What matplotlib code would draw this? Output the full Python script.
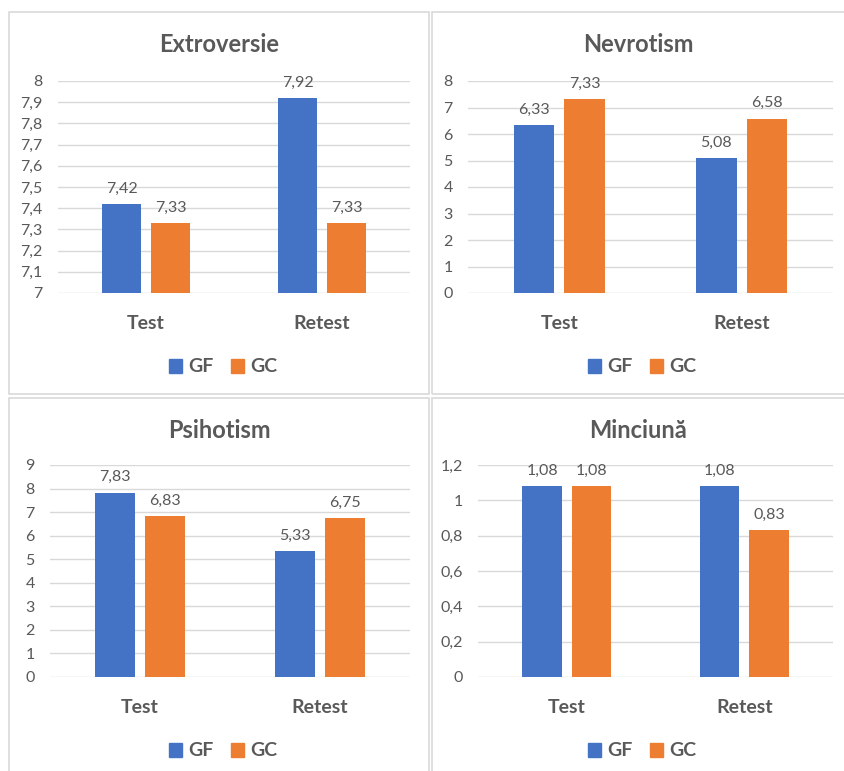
import matplotlib.pyplot as plt
from matplotlib.patches import Rectangle, Patch
import numpy as np

# date: scoruri medii pe grupe (GF / GC), test si retest
categories = ['Test', 'Retest']
series_names = ['GF', 'GC']
titles = ['Extroversie', 'Nevrotism', 'Psihotism', 'Minciună']

extroversie_gf = [7.42, 7.92]
extroversie_gc = [7.33, 7.33]
nevrotism_gf = [6.33, 5.08]
nevrotism_gc = [7.33, 6.58]
psihotism_gf = [7.83, 5.33]
psihotism_gc = [6.83, 6.75]
minciuna_gf = [1.08, 1.08]
minciuna_gc = [1.08, 0.83]

extroversie_ticks = [7.0, 7.1, 7.2, 7.3, 7.4, 7.5, 7.6, 7.7, 7.8, 7.9, 8.0]
nevrotism_ticks = [0, 1, 2, 3, 4, 5, 6, 7, 8]
psihotism_ticks = [0, 1, 2, 3, 4, 5, 6, 7, 8, 9]
minciuna_ticks = [0, 0.2, 0.4, 0.6, 0.8, 1.0, 1.2]

BLUE = '#4472C4'
ORANGE = '#ED7D31'
TEXT = '#595959'
GRID = '#D9D9D9'

plt.rcParams['font.family'] = ['Lato', 'DejaVu Sans']

W, H = 844, 771
fig = plt.figure(figsize=(W / 100, H / 100), dpi=100)


def fx(x):
    return x / W


def fy(y):
    return 1 - y / H


def comma(v, fmt):
    return format(v, fmt).replace('.', ',')


# (panel box, plot area) in pixels: (x0, y0, x1, y1)
layout = [
    ((9, 12, 429, 394), (58, 81, 410, 293)),
    ((432, 12, 850, 394), (468, 81, 833, 293)),
    ((9, 398, 429, 780), (50, 465, 410, 677)),
    ((432, 398, 850, 780), (478, 465, 833, 677)),
]
panels = [
    (extroversie_gf, extroversie_gc, extroversie_ticks),
    (nevrotism_gf, nevrotism_gc, nevrotism_ticks),
    (psihotism_gf, psihotism_gc, psihotism_ticks),
    (minciuna_gf, minciuna_gc, minciuna_ticks),
]

x = np.arange(len(categories))
width = 0.222
offset = 0.139

for (box, area), (gf, gc, ticks), title in zip(layout, panels, titles):
    bx0, by0, bx1, by1 = box
    fig.patches.append(Rectangle((fx(bx0), fy(by1)), fx(bx1 - bx0), (by1 - by0) / H,
                                 transform=fig.transFigure, fill=False,
                                 edgecolor=GRID, linewidth=1.2))
    ax0, ay0, ax1, ay1 = area
    ax = fig.add_axes([fx(ax0), fy(ay1), fx(ax1 - ax0), (ay1 - ay0) / H])

    b1 = ax.bar(x - offset, gf, width, color=BLUE, zorder=3)
    b2 = ax.bar(x + offset, gc, width, color=ORANGE, zorder=3)
    for bars, vals in ((b1, gf), (b2, gc)):
        for rect, v in zip(bars, vals):
            ax.annotate(comma(v, '.2f'), (rect.get_x() + rect.get_width() / 2, v),
                        xytext=(0, 6), textcoords='offset points',
                        ha='center', va='bottom', fontsize=11.5, color=TEXT)

    ax.set_xlim(-0.5, 1.5)
    ax.set_ylim(ticks[0], ticks[-1])
    ax.set_yticks(ticks)
    ax.set_yticklabels([comma(t, 'g') for t in ticks])
    ax.set_xticks(x)
    ax.set_xticklabels(categories, fontsize=14, fontweight='bold')
    ax.tick_params(axis='y', length=0, pad=11, labelsize=11.5, labelcolor=TEXT)
    ax.tick_params(axis='x', length=0, pad=16, labelcolor=TEXT)
    ax.grid(axis='y', color=GRID, linewidth=1, zorder=0)
    for s in ax.spines.values():
        s.set_visible(False)

    cx = (bx0 + min(bx1, W)) / 2
    fig.text(fx(cx), fy(by0 + 32), title, ha='center', va='center',
             fontsize=17, fontweight='bold', color=TEXT)

    handles = [Patch(color=BLUE), Patch(color=ORANGE)]
    fig.legend(handles, series_names, loc='center',
               bbox_to_anchor=(fx(cx + 4), fy(ay1 + 74)), ncol=2, frameon=False,
               handlelength=0.7, handleheight=0.7, handletextpad=0.3,
               columnspacing=0.9, prop={'size': 14, 'weight': 'bold'},
               labelcolor=TEXT)

fig.savefig('out.png', dpi=100, facecolor='white')
